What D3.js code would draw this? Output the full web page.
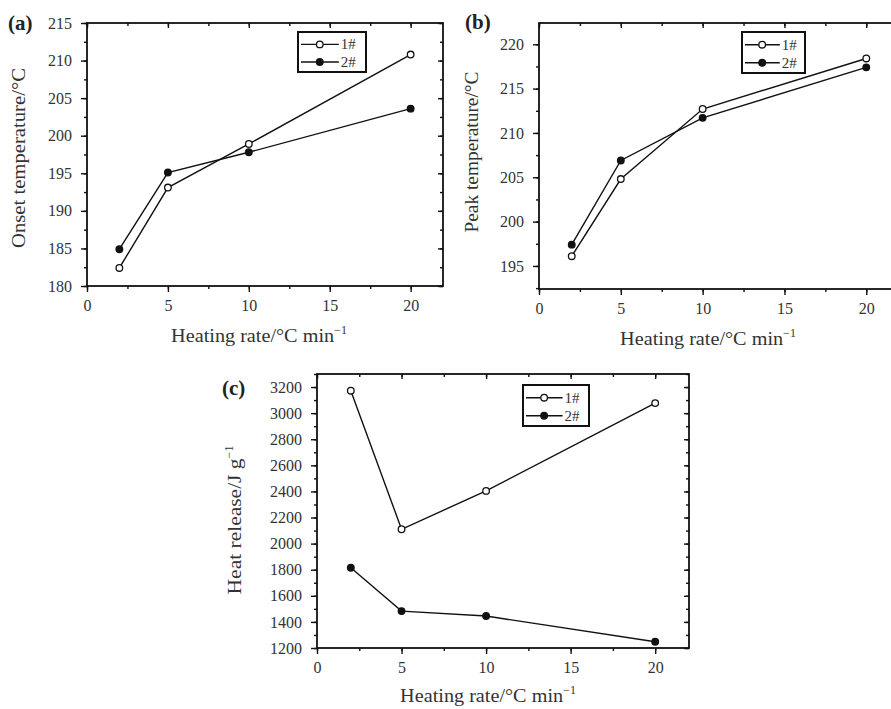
<!DOCTYPE html>
<html lang="en">
<head>
<meta charset="utf-8">
<script src="https://cdnjs.cloudflare.com/ajax/libs/d3/7.8.5/d3.min.js"></script>
<style>
  body { margin: 0; background: #fff; }
  svg { display: block; font-family: "Liberation Serif", "DejaVu Serif", serif; }
</style>
</head>
<body>
<svg id="chart" width="891" height="709"></svg>
<script>
// heating rates (°C/min)
var rates = [2, 5, 10, 20];
var xTicks = [0, 5, 10, 15, 20];
var seriesNames = ["1#", "2#"];

// (a) onset temperature
var onset1 = [182.4, 193.1, 198.9, 210.8];
var onset2 = [184.9, 195.1, 197.8, 203.6];
var onsetTicks = [180, 185, 190, 195, 200, 205, 210, 215];

// (b) peak temperature
var peak1 = [196.1, 204.8, 212.7, 218.4];
var peak2 = [197.4, 206.9, 211.7, 217.4];
var peakTicks = [195, 200, 205, 210, 215, 220];

// (c) heat release
var heat1 = [3172, 2110, 2404, 3077];
var heat2 = [1815, 1483, 1445, 1248];
var heatTicks = [1200, 1400, 1600, 1800, 2000, 2200, 2400, 2600, 2800, 3000, 3200];

var serif = "'Liberation Serif', 'DejaVu Serif', serif";
var svg = d3.select("#chart");

var panels = [
  {label: "(a)", ytitle: "Onset temperature/°C", s1: onset1, s2: onset2, yt: onsetTicks, ydom: [180, 215], yminor: 2.5,
   box: [87, 443, 23, 286], lab: [8, 30], ytx: 25, yty: 158, ylen: 180, xtx: 259, xty: 342,
   leg: [298, 32, 68, 40]},
  {label: "(b)", ytitle: "Peak temperature/°C", s1: peak1, s2: peak2, yt: peakTicks, ydom: [192.4, 222.4], yminor: 2.5,
   box: [539, 899, 23, 289], lab: [465, 29], ytx: 478, yty: 152, ylen: 161, xtx: 708, xty: 345,
   leg: [742, 32, 63, 41]},
  {label: "(c)", ytitle: "Heat release/J g", sup: true, s1: heat1, s2: heat2, yt: heatTicks, ydom: [1200, 3300], yminor: 100,
   box: [317, 689, 374, 648], lab: [222, 395], ytx: 241, yty: 520, ylen: 136, xtx: 488, xty: 702,
   leg: [523, 385, 66, 41]}
];

panels.forEach(function(p) {
  var x = d3.scaleLinear().domain([0, 22]).range([p.box[0], p.box[1]]);
  var y = d3.scaleLinear().domain(p.ydom).range([p.box[3], p.box[2]]);
  var g = svg.append("g");

  var xMinor = d3.range(0, 22.01, 2.5);
  var yMinor = d3.range(Math.ceil(p.ydom[0] / p.yminor) * p.yminor, p.ydom[1] + 0.001, p.yminor);

  // minor ticks
  g.append("g").attr("transform", "translate(0," + p.box[3] + ")")
    .call(d3.axisBottom(x).tickValues(xMinor).tickSize(3).tickFormat(""));
  g.append("g").attr("transform", "translate(" + p.box[0] + ",0)")
    .call(d3.axisLeft(y).tickValues(yMinor).tickSize(3).tickFormat(""));
  g.append("g").attr("transform", "translate(0," + p.box[2] + ")")
    .call(d3.axisBottom(x).tickValues(xMinor).tickSize(3).tickFormat(""));
  g.append("g").attr("transform", "translate(" + p.box[1] + ",0)")
    .call(d3.axisLeft(y).tickValues(yMinor).tickSize(3).tickFormat(""));

  // major ticks
  g.append("g").attr("transform", "translate(0," + p.box[3] + ")")
    .call(d3.axisBottom(x).tickValues(xTicks).tickSize(6).tickPadding(8));
  g.append("g").attr("transform", "translate(" + p.box[0] + ",0)")
    .call(d3.axisLeft(y).tickValues(p.yt).tickSize(6).tickPadding(9).tickFormat(d3.format("d")));
  g.append("g").attr("transform", "translate(0," + p.box[2] + ")")
    .call(d3.axisBottom(x).tickValues(xTicks).tickSize(5).tickFormat(""));
  g.append("g").attr("transform", "translate(" + p.box[1] + ",0)")
    .call(d3.axisLeft(y).tickValues(p.yt).tickSize(5).tickFormat(""));

  g.selectAll(".domain").remove();
  g.selectAll(".tick line").attr("stroke", "#111").attr("stroke-width", 1.4);
  g.selectAll(".tick text")
    .style("font-family", serif).style("font-size", "16px").attr("fill", "#333");

  // frame
  g.append("rect")
    .attr("x", p.box[0]).attr("y", p.box[2])
    .attr("width", p.box[1] - p.box[0]).attr("height", p.box[3] - p.box[2])
    .attr("fill", "none").attr("stroke", "#111").attr("stroke-width", 1.8);

  // series
  var line = d3.line().x(function(d, i) { return x(rates[i]); }).y(function(d) { return y(d); });
  [p.s1, p.s2].forEach(function(s, k) {
    g.append("path").datum(s).attr("d", line)
      .attr("fill", "none").attr("stroke", "#111").attr("stroke-width", 1.4);
    g.selectAll(null).data(s).enter().append("circle")
      .attr("cx", function(d, i) { return x(rates[i]); })
      .attr("cy", function(d) { return y(d); })
      .attr("r", 3.3)
      .attr("fill", k == 0 ? "#fff" : "#111")
      .attr("stroke", "#111").attr("stroke-width", 1.3);
  });

  // legend
  var lg = g.append("g").attr("transform", "translate(" + p.leg[0] + "," + p.leg[1] + ")");
  lg.append("rect").attr("width", p.leg[2]).attr("height", p.leg[3])
    .attr("fill", "#fff").attr("stroke", "#111").attr("stroke-width", 2);
  seriesNames.forEach(function(n, k) {
    var ry = p.leg[3] * (k == 0 ? 0.31 : 0.75);
    lg.append("line").attr("x1", 3).attr("x2", p.leg[2] * 0.6).attr("y1", ry).attr("y2", ry)
      .attr("stroke", "#111").attr("stroke-width", 1.4);
    lg.append("circle").attr("cx", p.leg[2] * 0.32).attr("cy", ry).attr("r", 3.3)
      .attr("fill", k == 0 ? "#fff" : "#111").attr("stroke", "#111").attr("stroke-width", 1.3);
    lg.append("text").attr("x", p.leg[2] * 0.63).attr("y", ry + 5)
      .attr("font-size", 15).attr("fill", "#333").text(n);
  });

  // panel label
  svg.append("text").attr("x", p.lab[0]).attr("y", p.lab[1])
    .attr("font-size", 21).attr("font-weight", "bold").attr("fill", "#222").text(p.label);

  // y title
  var yt = svg.append("text")
    .attr("transform", "translate(" + p.ytx + "," + p.yty + ") rotate(-90)")
    .attr("text-anchor", "middle").attr("font-size", 18).attr("fill", "#333");
  yt.append("tspan").attr("textLength", p.ylen).attr("lengthAdjust", "spacingAndGlyphs").text(p.ytitle);
  if (p.sup) yt.append("tspan").attr("dy", -8).attr("font-size", 12).text("−1");

  // x title
  var xt = svg.append("text").attr("x", p.xtx).attr("y", p.xty)
    .attr("text-anchor", "middle").attr("font-size", 18).attr("fill", "#333");
  xt.append("tspan").attr("textLength", 163).attr("lengthAdjust", "spacingAndGlyphs").text("Heating rate/°C min");
  xt.append("tspan").attr("dy", -8).attr("font-size", 12).text("−1");
});
</script>
</body>
</html>
